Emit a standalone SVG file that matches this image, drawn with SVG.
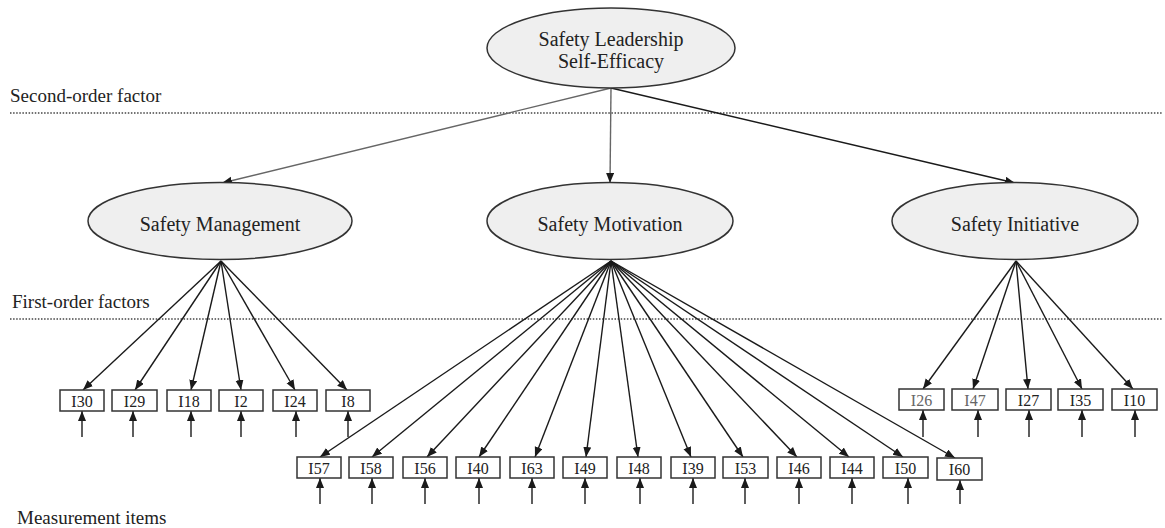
<svg xmlns="http://www.w3.org/2000/svg" width="1165" height="528" viewBox="0 0 1165 528">
<style>
text{font-family:"Liberation Serif","Times New Roman",serif;fill:#222}
.lbl{font-size:19px}
.fac{font-size:20px;text-anchor:middle}
.itm{font-size:16px;text-anchor:middle}
.ell{fill:#efefef;stroke:#333;stroke-width:1.5}
.box{fill:#fff;stroke:#333;stroke-width:1.5}
.dot{stroke:#444;stroke-width:1.5;stroke-dasharray:1.5 1.6;fill:none}
.c{stroke:#1a1a1a;stroke-width:1.4;fill:none;marker-end:url(#ah)}
.g{stroke:#666}
</style>
<defs>
<marker id="ah" markerUnits="userSpaceOnUse" markerWidth="11" markerHeight="9" refX="10" refY="4" orient="auto">
<path d="M0,0 L10,4 L0,8 z" fill="#1a1a1a"/>
</marker>
</defs>
<rect width="1165" height="528" fill="#fff"/>
<g id="labels">
<text class="lbl" x="10" y="102">Second-order factor</text>
<line class="dot" x1="10" y1="113" x2="1162" y2="113"/>
<text class="lbl" x="12" y="308">First-order factors</text>
<line class="dot" x1="10" y1="319" x2="1162" y2="319"/>
<text class="lbl" x="17" y="524">Measurement items</text>
</g>
<g id="connectors">
<line class="c g" x1="611" y1="88" x2="222" y2="183"/>
<line class="c g" x1="611" y1="88" x2="610" y2="183"/>
<line class="c" x1="611" y1="88" x2="1015" y2="183"/>
<line class="c" x1="221" y1="261" x2="83" y2="390"/>
<line class="c" x1="221" y1="261" x2="135" y2="390"/>
<line class="c" x1="221" y1="261" x2="191" y2="390"/>
<line class="c" x1="221" y1="261" x2="241" y2="390"/>
<line class="c" x1="221" y1="261" x2="295" y2="390"/>
<line class="c" x1="221" y1="261" x2="347" y2="390"/>
<line class="c" x1="611" y1="261" x2="320" y2="457"/>
<line class="c" x1="611" y1="261" x2="372" y2="457"/>
<line class="c" x1="611" y1="261" x2="427" y2="457"/>
<line class="c" x1="611" y1="261" x2="479" y2="457"/>
<line class="c" x1="611" y1="261" x2="535" y2="457"/>
<line class="c" x1="611" y1="261" x2="586" y2="457"/>
<line class="c" x1="611" y1="261" x2="638" y2="457"/>
<line class="c" x1="611" y1="261" x2="691" y2="457"/>
<line class="c" x1="611" y1="261" x2="743" y2="457"/>
<line class="c" x1="611" y1="261" x2="797" y2="457"/>
<line class="c" x1="611" y1="261" x2="849" y2="457"/>
<line class="c" x1="611" y1="261" x2="903" y2="457"/>
<line class="c" x1="611" y1="261" x2="955" y2="458"/>
<line class="c" x1="1016" y1="261" x2="923" y2="389"/>
<line class="c" x1="1016" y1="261" x2="973" y2="389"/>
<line class="c" x1="1016" y1="261" x2="1028" y2="389"/>
<line class="c" x1="1016" y1="261" x2="1082" y2="389"/>
<line class="c" x1="1016" y1="261" x2="1133" y2="389"/>
<line class="c" x1="82" y1="437" x2="82" y2="411"/>
<line class="c" x1="133" y1="437" x2="133" y2="411"/>
<line class="c" x1="191" y1="437" x2="191" y2="411"/>
<line class="c" x1="241" y1="437" x2="241" y2="411"/>
<line class="c" x1="296" y1="437" x2="296" y2="411"/>
<line class="c" x1="348" y1="437" x2="348" y2="411"/>
<line class="c" x1="320" y1="504" x2="320" y2="478"/>
<line class="c" x1="372" y1="504" x2="372" y2="478"/>
<line class="c" x1="425" y1="504" x2="425" y2="478"/>
<line class="c" x1="479" y1="504" x2="479" y2="478"/>
<line class="c" x1="532" y1="504" x2="532" y2="478"/>
<line class="c" x1="585" y1="504" x2="585" y2="478"/>
<line class="c" x1="640" y1="504" x2="640" y2="478"/>
<line class="c" x1="693" y1="504" x2="693" y2="478"/>
<line class="c" x1="745" y1="504" x2="745" y2="478"/>
<line class="c" x1="799" y1="504" x2="799" y2="478"/>
<line class="c" x1="852" y1="504" x2="852" y2="478"/>
<line class="c" x1="908" y1="504" x2="908" y2="478"/>
<line class="c" x1="960" y1="504" x2="960" y2="480"/>
<line class="c" x1="923" y1="437" x2="923" y2="410"/>
<line class="c" x1="978" y1="437" x2="978" y2="410"/>
<line class="c" x1="1029" y1="437" x2="1029" y2="410"/>
<line class="c" x1="1082" y1="437" x2="1082" y2="410"/>
<line class="c" x1="1135" y1="437" x2="1135" y2="410"/>
</g>
<g id="n-slse">
<ellipse class="ell" cx="611" cy="48" rx="124" ry="40"/>
<text class="fac" x="611" y="46">Safety Leadership</text>
<text class="fac" x="611" y="68">Self-Efficacy</text>
</g>
<g id="n-sm">
<ellipse class="ell" cx="220" cy="221" rx="132" ry="38.5"/>
<text class="fac" x="220" y="231">Safety Management</text>
</g>
<g id="n-smo">
<ellipse class="ell" cx="610" cy="221" rx="123" ry="38.5"/>
<text class="fac" x="610" y="231">Safety Motivation</text>
</g>
<g id="n-si">
<ellipse class="ell" cx="1015" cy="221" rx="123" ry="38.5"/>
<text class="fac" x="1015" y="231">Safety Initiative</text>
</g>
<g id="n-i30"><rect class="box" x="60" y="390" width="44" height="21"/><text class="itm" x="82" y="407">I30</text></g>
<g id="n-i29"><rect class="box" x="112" y="390" width="45" height="21"/><text class="itm" x="134.5" y="407">I29</text></g>
<g id="n-i18"><rect class="box" x="167" y="390" width="44" height="21"/><text class="itm" x="189" y="407">I18</text></g>
<g id="n-i2"><rect class="box" x="219" y="390" width="44" height="21"/><text class="itm" x="241" y="407">I2</text></g>
<g id="n-i24"><rect class="box" x="273" y="390" width="44" height="21"/><text class="itm" x="295" y="407">I24</text></g>
<g id="n-i8"><rect class="box" x="326" y="390" width="44" height="21"/><text class="itm" x="348" y="407">I8</text></g>
<g id="n-i57"><rect class="box" x="297" y="457" width="44" height="21"/><text class="itm" x="319" y="474">I57</text></g>
<g id="n-i58"><rect class="box" x="349" y="457" width="44" height="21"/><text class="itm" x="371" y="474">I58</text></g>
<g id="n-i56"><rect class="box" x="403" y="457" width="44" height="21"/><text class="itm" x="425" y="474">I56</text></g>
<g id="n-i40"><rect class="box" x="456" y="457" width="44" height="21"/><text class="itm" x="478" y="474">I40</text></g>
<g id="n-i63"><rect class="box" x="510" y="457" width="44" height="21"/><text class="itm" x="532" y="474">I63</text></g>
<g id="n-i49"><rect class="box" x="563" y="457" width="44" height="21"/><text class="itm" x="585" y="474">I49</text></g>
<g id="n-i48"><rect class="box" x="617" y="457" width="44" height="21"/><text class="itm" x="639" y="474">I48</text></g>
<g id="n-i39"><rect class="box" x="671" y="457" width="44" height="21"/><text class="itm" x="693" y="474">I39</text></g>
<g id="n-i53"><rect class="box" x="723" y="457" width="45" height="21"/><text class="itm" x="745.5" y="474">I53</text></g>
<g id="n-i46"><rect class="box" x="777" y="457" width="44" height="21"/><text class="itm" x="799" y="474">I46</text></g>
<g id="n-i44"><rect class="box" x="830" y="457" width="44" height="21"/><text class="itm" x="852" y="474">I44</text></g>
<g id="n-i50"><rect class="box" x="883" y="457" width="45" height="21"/><text class="itm" x="905.5" y="474">I50</text></g>
<g id="n-i60"><rect class="box" x="937" y="458" width="45" height="22"/><text class="itm" x="959.5" y="475">I60</text></g>
<g id="n-i26"><rect class="box" x="899" y="389" width="45" height="21"/><text class="itm" x="921.5" y="406" style="fill:#666">I26</text></g>
<g id="n-i47"><rect class="box" x="952" y="389" width="46" height="21"/><text class="itm" x="975" y="406" style="fill:#666">I47</text></g>
<g id="n-i27"><rect class="box" x="1006" y="389" width="45" height="21"/><text class="itm" x="1028.5" y="406">I27</text></g>
<g id="n-i35"><rect class="box" x="1058" y="389" width="45" height="21"/><text class="itm" x="1080.5" y="406">I35</text></g>
<g id="n-i10"><rect class="box" x="1112" y="389" width="45" height="21"/><text class="itm" x="1134.5" y="406">I10</text></g>
</svg>
